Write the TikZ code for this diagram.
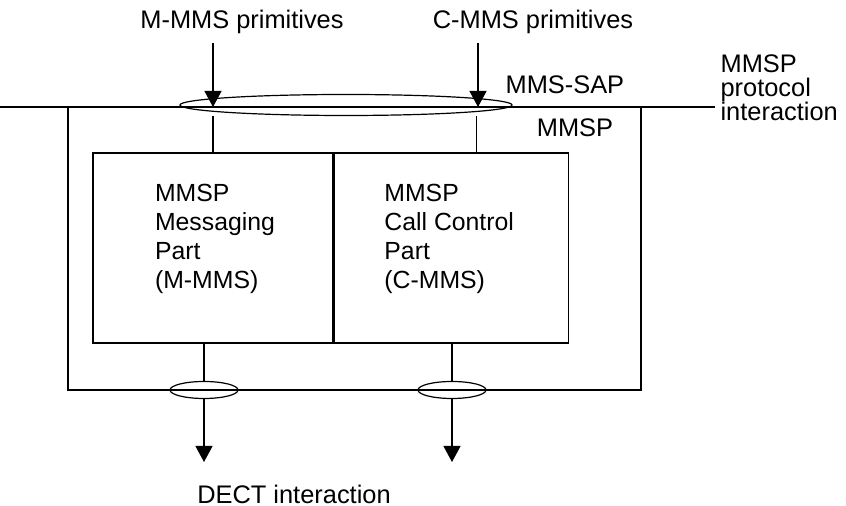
\documentclass[tikz,border=0pt]{standalone}
\usepackage{fontspec}
\setmainfont{Liberation Sans}
\usetikzlibrary{calc}
\usetikzlibrary{arrows.meta}
\usetikzlibrary{shapes.geometric}

\begin{document}
\begin{tikzpicture}[x=0.5pt,y=-0.5pt,line width=0.6pt,
  txt/.style={inner sep=0pt,font=\fontsize{12.7}{12}\selectfont},
  parttxt/.style={inner sep=0pt,align=left,font=\fontsize{12.4}{14.6}\selectfont},
  part/.style={draw,rectangle,inner sep=0pt,minimum height=95pt},
  sapring/.style={draw,ellipse,inner sep=0pt},
  pfeil/.style={-{Triangle[length=8pt,width=8.5pt]}}]
\useasboundingbox (0,0) rectangle (846,506);
\coordinate (L) at (0,107);
\coordinate (R) at (715,107);
\coordinate (A) at (68,107);
\coordinate (B) at (641,107);
\def\unten{390}
% Schnittstelle oben
\draw (L) -- (R);
\draw (A) -- (68,\unten) -- (641,\unten) -- (B);
\node[sapring,minimum width=166pt,minimum height=10.5pt] (sap) at (346,105) {};
% MMSP Teile
\node[part,minimum width=120pt] (mpart) at (213,248) {};
\node[part,minimum width=117pt,anchor=west] (cpart) at (mpart.east) {};
\node[parttxt] (mtxt) at ($(mpart.center)+(2,-9)$) {MMSP\\Messaging\\Part\\(M-MMS)};
\node[parttxt] (ctxt) at ($(cpart.center)+(-2,-9)$) {MMSP\\Call Control\\Part\\(C-MMS)};
% Primitive
\node[txt] (mprim) at (242,22) {M-MMS primitives};
\node[txt] (cprim) at (533,22) {C-MMS primitives};
\coordinate (M1) at (213,43);
\coordinate (C1) at (478,43);
\draw[pfeil] (M1) -- (M1 |- L);
\draw[pfeil] (C1) -- (C1 |- L);
\coordinate (cN) at ($(cpart.north)+(25,0)$);
\draw (mpart.north |- sap.south) -- (mpart.north);
\draw (cN |- sap.south) -- (cN);
\node[txt,anchor=west] (sapl) at (505,85) {MMS-SAP};
\node[txt] (mmsp) at (575,128) {MMSP};
\node[txt,anchor=west,align=left] (prot) at (720,88) {MMSP\\protocol\\interaction};
% DECT
\node[sapring,minimum width=34pt,minimum height=8.5pt] (ringM) at (204,\unten) {};
\node[sapring,minimum width=34pt,minimum height=8.5pt] (ringC) at (452,\unten) {};
\draw (ringM.north |- mpart.south) -- (ringM.north);
\draw (ringC.north |- cpart.south) -- (ringC.north);
\coordinate (M2) at (204,462);
\coordinate (C2) at (452,462);
\draw[pfeil] (ringM.south) -- (M2);
\draw[pfeil] (ringC.south) -- (C2);
\node[txt] (dect) at (294,494) {DECT interaction};
\end{tikzpicture}
\end{document}
